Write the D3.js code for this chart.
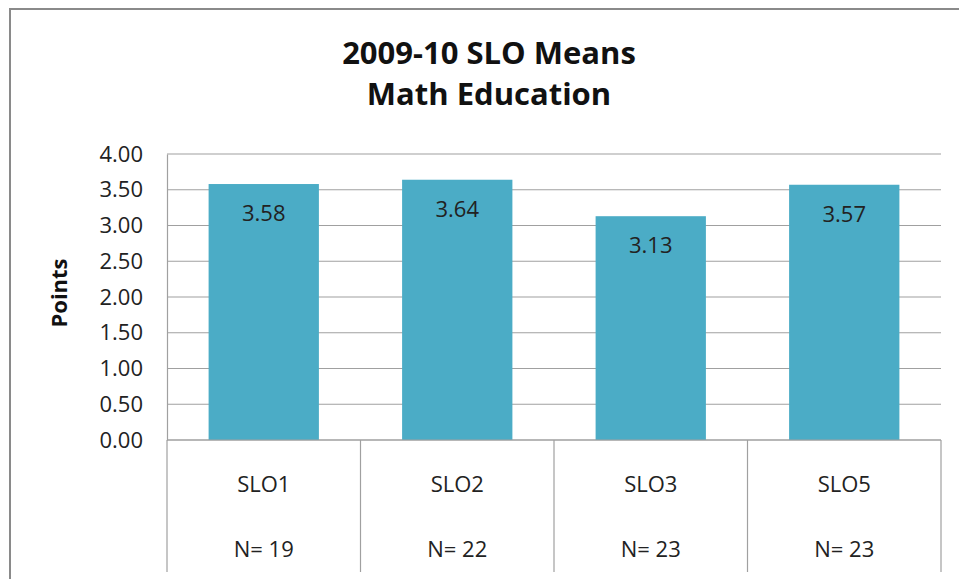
<!DOCTYPE html>
<html>
<head>
<meta charset="utf-8">
<script src="https://cdn.jsdelivr.net/npm/d3@7"></script>
<style>
  body { margin: 0; background: #fff; }
  svg { font-family: "Open Sans", Lato, sans-serif; }
</style>
</head>
<body>
<script>
// chart data
var categories = ["SLO1", "SLO2", "SLO3", "SLO5"];
var means = [3.58, 3.64, 3.13, 3.57];
var counts = ["N= 19", "N= 22", "N= 23", "N= 23"];
var yTicks = [0, 0.5, 1, 1.5, 2, 2.5, 3, 3.5, 4];
var titleLines = ["2009-10 SLO Means", "Math Education"];

var w = 959, h = 579;
var plotLeft = 167, plotRight = 941, plotTop = 154, plotBottom = 440;

var svg = d3.select("body").append("svg")
  .attr("width", w)
  .attr("height", h);

// outer frame
svg.append("rect")
  .attr("x", 10).attr("y", 9)
  .attr("width", w + 20).attr("height", h + 20)
  .attr("fill", "#fff")
  .attr("stroke", "#8a8a8a")
  .attr("stroke-width", 2);

var x = d3.scaleBand()
  .domain(categories)
  .range([plotLeft, plotRight])
  .paddingInner(0.43)
  .paddingOuter(0.215);

var xCat = d3.scaleBand()
  .domain(categories)
  .range([plotLeft, plotRight]);

var y = d3.scaleLinear()
  .domain([0, 4])
  .range([plotBottom, plotTop]);

// gridlines
svg.append("g")
  .selectAll("line")
  .data(yTicks)
  .enter().append("line")
  .attr("x1", plotLeft).attr("x2", plotRight)
  .attr("y1", d => y(d)).attr("y2", d => y(d))
  .attr("stroke", "#a0a0a0")
  .attr("stroke-width", 1.2);

// y axis
var yAxis = d3.axisLeft(y)
  .tickValues(yTicks)
  .tickFormat(d3.format(".2f"))
  .tickSize(0)
  .tickPadding(24);

var yg = svg.append("g")
  .attr("transform", "translate(" + plotLeft + ",0)")
  .call(yAxis);
yg.select(".domain").attr("stroke", "#a0a0a0").attr("stroke-width", 1.2);
yg.selectAll("text")
  .attr("font-size", 22)
  .attr("fill", "#222")
  .attr("font-family", "'Open Sans', sans-serif");

// category separators down into the label area
svg.append("g")
  .selectAll("line")
  .data(categories.concat(["end"]))
  .enter().append("line")
  .attr("x1", (d, i) => i < categories.length ? xCat(d) : plotRight)
  .attr("x2", (d, i) => i < categories.length ? xCat(d) : plotRight)
  .attr("y1", plotBottom).attr("y2", 572)
  .attr("stroke", "#a0a0a0")
  .attr("stroke-width", 1.2);

// bars
svg.append("g")
  .selectAll("rect")
  .data(means)
  .enter().append("rect")
  .attr("x", (d, i) => x(categories[i]))
  .attr("y", d => y(d))
  .attr("width", x.bandwidth())
  .attr("height", d => y(0) - y(d))
  .attr("fill", "#4BACC6");

// value labels
svg.append("g")
  .selectAll("text")
  .data(means)
  .enter().append("text")
  .attr("x", (d, i) => x(categories[i]) + x.bandwidth() / 2)
  .attr("y", d => y(d) + 37)
  .attr("text-anchor", "middle")
  .attr("font-size", 22)
  .attr("fill", "#222")
  .text(d => d.toFixed(2));

// x axis line
svg.append("line")
  .attr("x1", plotLeft).attr("x2", plotRight)
  .attr("y1", plotBottom).attr("y2", plotBottom)
  .attr("stroke", "#a0a0a0")
  .attr("stroke-width", 1.2);

// category labels
svg.append("g")
  .selectAll("text")
  .data(categories)
  .enter().append("text")
  .attr("x", d => xCat(d) + xCat.bandwidth() / 2)
  .attr("y", 492)
  .attr("text-anchor", "middle")
  .attr("font-size", 22)
  .attr("fill", "#222")
  .text(d => d);

svg.append("g")
  .selectAll("text")
  .data(counts)
  .enter().append("text")
  .attr("x", (d, i) => xCat(categories[i]) + xCat.bandwidth() / 2)
  .attr("y", 557)
  .attr("text-anchor", "middle")
  .attr("font-size", 22)
  .attr("fill", "#222")
  .text(d => d);

// title
svg.append("g")
  .selectAll("text")
  .data(titleLines)
  .enter().append("text")
  .attr("x", 489)
  .attr("y", (d, i) => 64 + i * 41)
  .attr("text-anchor", "middle")
  .attr("font-size", 31)
  .attr("font-weight", "bold")
  .attr("fill", "#111")
  .text(d => d);

// y axis title
svg.append("text")
  .attr("transform", "translate(67,293) rotate(-90)")
  .attr("text-anchor", "middle")
  .attr("font-size", 22)
  .attr("font-weight", "bold")
  .attr("fill", "#111")
  .text("Points");
</script>
</body>
</html>
